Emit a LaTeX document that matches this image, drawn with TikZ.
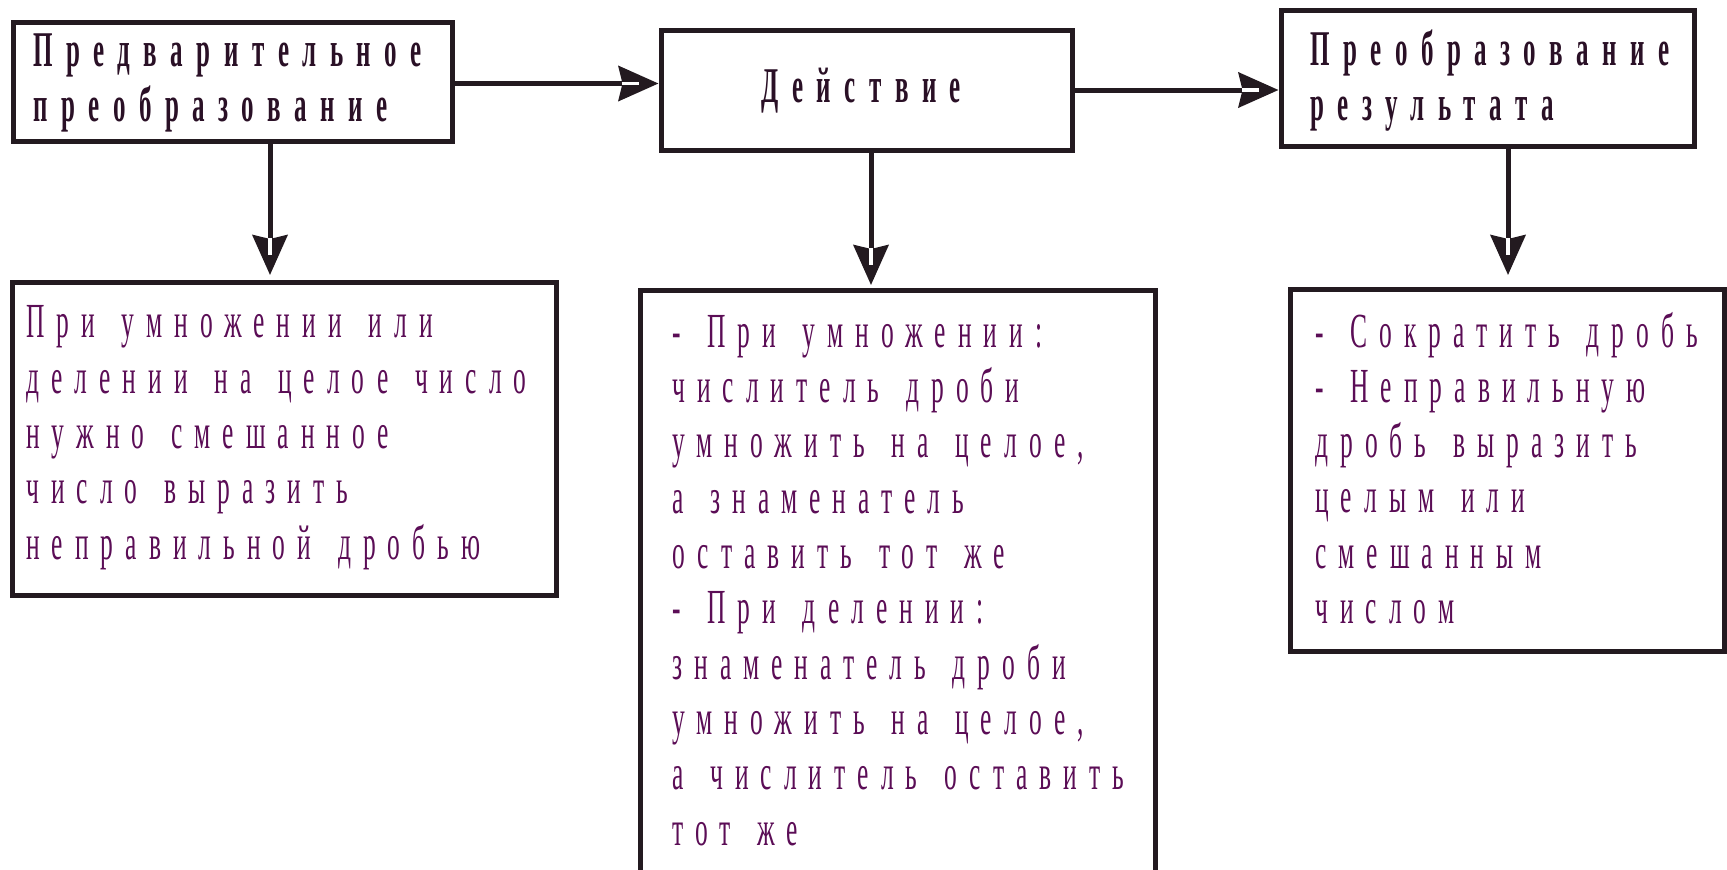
\documentclass[tikz,border=0pt]{standalone}
\usepackage{fontspec}
\setmainfont{Liberation Serif}
\newfontfamily\topfont[FakeStretch=0.5,LetterSpace=27]{Liberation Serif}
\newfontfamily\botfont[FakeStretch=0.52,LetterSpace=24.6,WordSpace=1.45]{Liberation Serif}
\usetikzlibrary{arrows.meta,calc}
\definecolor{bordc}{HTML}{231A20}
\definecolor{toptxt}{HTML}{2A1026}
\definecolor{bottxt}{HTML}{5B0D56}
\begin{document}
\begin{tikzpicture}[x=1pt,y=-1pt,
  box/.style={draw=bordc, line width=5pt, rectangle, inner sep=0pt},
  toptext/.style={font=\topfont\bfseries\fontsize{50}{55}\selectfont, text=toptxt, anchor=base west, inner sep=0pt, align=left},
  bottext/.style={font=\botfont\fontsize{49}{55.3}\selectfont, text=bottxt, anchor=base west, inner sep=0pt, align=left},
  arr/.style={draw=bordc, line width=5pt, -{Stealth[length=40pt,width=35pt,inset=4pt]}},
  notch/.style={draw=white, line width=3.5pt}]
\useasboundingbox (0,0) rectangle (1727,870);
\fill[white] (0,0) rectangle (1727,870);

% boxes
\node[box, minimum width=439pt, minimum height=119pt] (b1) at (232.5,81.5) {};
\node[box, minimum width=411pt, minimum height=120pt] (b2) at (866.5,90) {};
\node[box, minimum width=413pt, minimum height=136pt] (b3) at (1487.5,78) {};
\node[box, minimum width=543.5pt, minimum height=312.5pt] (b4) at (284.25,438.75) {};
\node[box, minimum width=515pt, minimum height=590pt] (b5) at (897.5,585) {};
\node[box, minimum width=434.5pt, minimum height=361.5pt] (b6) at (1507.25,470.25) {};

% texts (anchored at the baseline of their last line)
\node[toptext] (t1) at (33,121) {Предварительное\\преобразование};
\node[toptext] (t2) at (761,102) {Действие};
\node[toptext] (t3) at (1310,120) {Преобразование\\результата};
\node[bottext] (t4) at (26,559) {При умножении или\\делении на целое число\\нужно смешанное\\число выразить\\неправильной дробью};
\node[bottext] (t5) at (672,845) {- При умножении:\\числитель дроби\\умножить на целое,\\а знаменатель\\оставить тот же\\- При делении:\\знаменатель дроби\\умножить на целое,\\а числитель оставить\\тот же};
\node[bottext] (t6) at (1315,623.5) {- Сократить дробь\\- Неправильную\\дробь выразить\\целым или\\смешанным\\числом};

% connectors
\coordinate (x14) at (270,0);
\coordinate (x25) at (871,0);
\coordinate (x36) at (1508,0);
\coordinate (y12) at (0,83.5);
\coordinate (y23) at (0,90);
\draw[arr] (b1.east |- y12) -- (b2.west |- y12);
\draw[arr] (b2.east |- y23) -- (b3.west |- y23);
\draw[arr, shorten >=5pt] (b1.south -| x14) -- (b4.north -| x14);
\draw[arr, shorten >=2.5pt] (b2.south -| x25) -- (b5.north -| x25);
\draw[arr, shorten >=12pt] (b3.south -| x36) -- (b6.north -| x36);

% white notches inside arrowheads
\draw[notch] ($(b2.west |- y12)+(-37,0)$) -- ($(b2.west |- y12)+(-20,0)$);
\draw[notch] ($(b3.west |- y23)+(-37,0)$) -- ($(b3.west |- y23)+(-20,0)$);
\draw[notch] ($(b4.north -| x14)+(0,-42)$) -- ($(b4.north -| x14)+(0,-25)$);
\draw[notch] ($(b5.north -| x25)+(0,-39.5)$) -- ($(b5.north -| x25)+(0,-22.5)$);
\draw[notch] ($(b6.north -| x36)+(0,-49)$) -- ($(b6.north -| x36)+(0,-32)$);
\end{tikzpicture}
\end{document}
